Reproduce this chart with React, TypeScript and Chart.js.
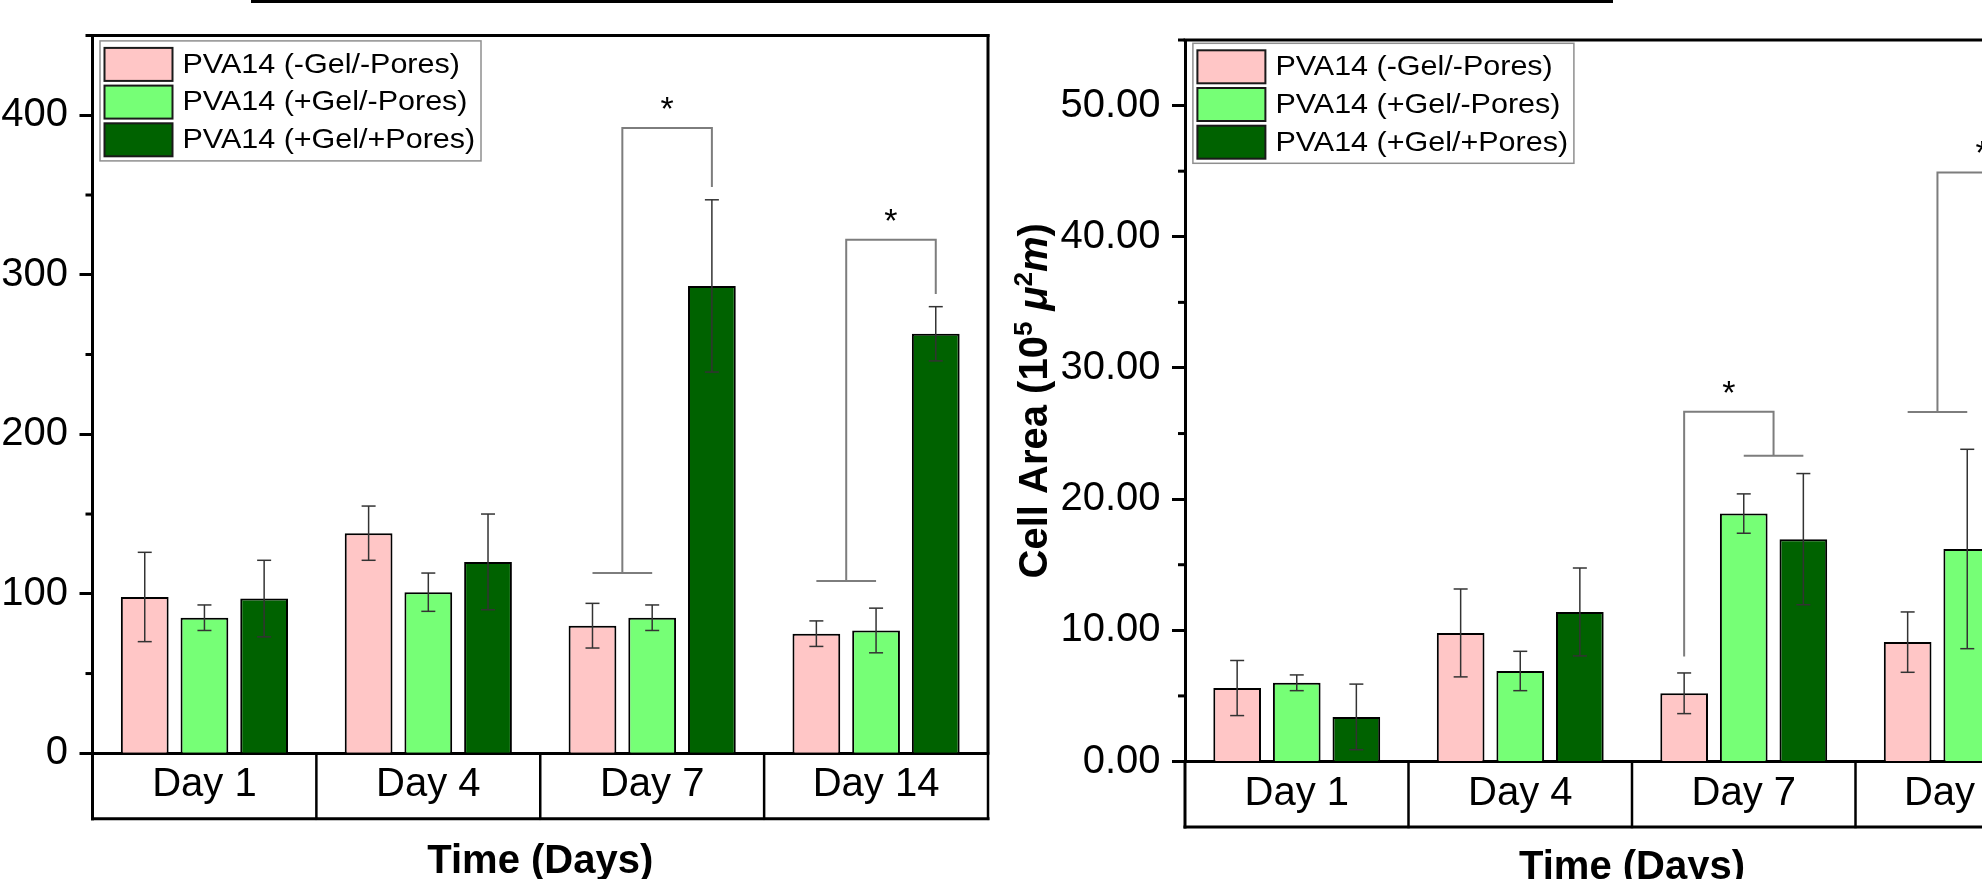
import React, { useEffect, useRef } from 'react';
import { Chart, registerables } from 'chart.js';

Chart.register(...registerables);

const FONT = '"Liberation Sans", Arial, Helvetica, sans-serif';

const days = ['Day 1', 'Day 4', 'Day 7', 'Day 14'];
const groupLabels = ['PVA14 (-Gel/-Pores)', 'PVA14 (+Gel/-Pores)', 'PVA14 (+Gel/+Pores)'];
const groupColors = ['#ffc6c6', '#76ff76', '#006200'];

// Left panel: cell count per scaffold
const countNoGelNoPores = [98, 138, 80, 75];
const countNoGelNoPoresSd = [28, 17, 14, 8];
const countGelNoPores = [85, 101, 85, 77];
const countGelNoPoresSd = [8, 12, 8, 14];
const countGelPores = [97, 120, 293, 263];
const countGelPoresSd = [24, 30, 54, 17];
const countAxis = [0, 450, 100];

// significance brackets, count panel
const countSigDay = [2, 3];
const countSigLeft = [[0, 1], [0, 1]];
const countSigRight = [[2], [2]];
const countSigTop = [392, 322];
const countSigLeftEnd = [113, 108];
const countSigRightEnd = [355, 288];

// Right panel: cell area (10^5 µ²m)
const areaNoGelNoPores = [5.6, 9.8, 5.2, 9.1];
const areaNoGelNoPoresSd = [2.1, 3.35, 1.55, 2.3];
const areaGelNoPores = [6.0, 6.9, 18.9, 16.2];
const areaGelNoPoresSd = [0.6, 1.5, 1.5, 7.6];
const areaGelPores = [3.4, 11.4, 16.95, 30.0];
const areaGelPoresSd = [2.5, 3.35, 5.0, 8.0];
const areaAxis = [0, 55, 10];

// significance brackets, area panel
const areaSigDay = [2, 3];
const areaSigLeft = [[0], [0, 1]];
const areaSigRight = [[1, 2], [2]];
const areaSigTop = [26.67, 44.9];
const areaSigLeftEnd = [8.0, 26.64];
const areaSigRightEnd = [23.3, 40.0];

type Panel = {
  values: number[][];
  errors: number[][];
  axis: number[];
  decimals: number;
  sig: { day: number[]; left: number[][]; right: number[][]; top: number[]; leftEnd: number[]; rightEnd: number[] };
  width: number;
  height: number;
  pad: { top: number; right: number };
  yWidth: number;
  xHeight: number;
  titlePad: number;
  legendAt: [number, number];
  yTitle: boolean;
};

function line(ctx: CanvasRenderingContext2D, x1: number, y1: number, x2: number, y2: number) {
  ctx.beginPath();
  ctx.moveTo(x1, y1);
  ctx.lineTo(x2, y2);
  ctx.stroke();
}

function makeDecor(p: Panel) {
  return {
    id: 'panelDecor',
    afterDatasetsDraw(chart: any) {
      const { ctx } = chart;
      const y = chart.scales.y;
      ctx.save();
      // error bars
      ctx.strokeStyle = '#333';
      ctx.lineWidth = 1.5;
      chart.data.datasets.forEach((ds: any, di: number) => {
        const meta = chart.getDatasetMeta(di);
        meta.data.forEach((bar: any, j: number) => {
          const v = ds.data[j];
          const e = ds.errors[j];
          const yh = y.getPixelForValue(v + e);
          const yl = y.getPixelForValue(v - e);
          line(ctx, bar.x, yh, bar.x, yl);
          line(ctx, bar.x - 7, yh, bar.x + 7, yh);
          line(ctx, bar.x - 7, yl, bar.x + 7, yl);
        });
      });
      // significance brackets
      const s = p.sig;
      ctx.strokeStyle = '#7d7d7d';
      ctx.lineWidth = 2;
      s.day.forEach((d, k) => {
        const xsOf = (groups: number[]) => groups.map((g) => chart.getDatasetMeta(g).data[d].x);
        const lxs = xsOf(s.left[k]);
        const rxs = xsOf(s.right[k]);
        const lx = lxs.reduce((a, b) => a + b, 0) / lxs.length;
        const rx = rxs.reduce((a, b) => a + b, 0) / rxs.length;
        const yt = y.getPixelForValue(s.top[k]);
        const yl = y.getPixelForValue(s.leftEnd[k]);
        const yr = y.getPixelForValue(s.rightEnd[k]);
        ctx.beginPath();
        ctx.moveTo(lx, yl);
        ctx.lineTo(lx, yt);
        ctx.lineTo(rx, yt);
        ctx.lineTo(rx, yr);
        ctx.stroke();
        if (lxs.length > 1) line(ctx, Math.min(...lxs), yl, Math.max(...lxs), yl);
        if (rxs.length > 1) line(ctx, Math.min(...rxs), yr, Math.max(...rxs), yr);
        ctx.fillStyle = '#000';
        ctx.font = `34px ${FONT}`;
        ctx.textAlign = 'center';
        ctx.textBaseline = 'alphabetic';
        ctx.fillText('*', (lx + rx) / 2, yt - 8);
      });
      ctx.restore();
    },
    afterDraw(chart: any) {
      const { ctx, chartArea: ca } = chart;
      const x = chart.scales.x;
      const y = chart.scales.y;
      ctx.save();
      ctx.strokeStyle = '#000';
      ctx.lineCap = 'square';
      // plot frame (top and right)
      ctx.lineWidth = 3;
      line(ctx, ca.left, ca.top, ca.right, ca.top);
      line(ctx, ca.right, ca.top, ca.right, ca.bottom);
      // minor ticks
      const [lo, hi, step] = p.axis;
      ctx.lineCap = 'butt';
      for (let v = lo + step / 2; v <= hi + 1e-9; v += step) {
        const py = y.getPixelForValue(v);
        line(ctx, ca.left - 7, py, ca.left, py);
      }
      // category box under the axis
      const boxH = 65.5;
      const n = x.ticks.length;
      const cw = (ca.right - ca.left) / n;
      ctx.lineCap = 'square';
      line(ctx, ca.left, ca.bottom + boxH, ca.right, ca.bottom + boxH);
      for (let i = 0; i <= n; i++) {
        const bx = i < n ? x.getPixelForValue(i) - cw / 2 : x.getPixelForValue(n - 1) + cw / 2;
        ctx.lineWidth = i === 0 ? 3 : 2.5;
        line(ctx, bx, ca.bottom, bx, ca.bottom + boxH);
      }
      // legend
      const lx = ca.left + p.legendAt[0];
      const ly = ca.top + p.legendAt[1];
      const lw = 381;
      const lh = 120;
      ctx.fillStyle = '#fff';
      ctx.fillRect(lx, ly, lw, lh);
      ctx.strokeStyle = '#8f8f8f';
      ctx.lineWidth = 1.5;
      ctx.strokeRect(lx, ly, lw, lh);
      chart.data.datasets.forEach((ds: any, i: number) => {
        const sy = ly + 7 + i * 37.7;
        ctx.fillStyle = ds.backgroundColor;
        ctx.fillRect(lx + 4.5, sy, 68, 33);
        ctx.strokeStyle = '#1a1a1a';
        ctx.lineWidth = 2;
        ctx.strokeRect(lx + 4.5, sy, 68, 33);
        ctx.save();
        ctx.translate(lx + 82.5, sy + 17);
        ctx.scale(1.07, 1);
        ctx.fillStyle = '#000';
        ctx.font = `28.5px ${FONT}`;
        ctx.textAlign = 'left';
        ctx.textBaseline = 'middle';
        ctx.fillText(ds.label, 0, 0);
        ctx.restore();
      });
      // rotated y-axis title with superscripts
      if (p.yTitle) {
        const segs: [string, string, number][] = [
          ['Cell Area (10', `bold 40px ${FONT}`, 0],
          ['5', `bold 26px ${FONT}`, -15],
          [' ', `bold 40px ${FONT}`, 0],
          ['\u03bc', `italic bold 40px ${FONT}`, 0],
          ['2', `bold 26px ${FONT}`, -15],
          ['m', `italic bold 40px ${FONT}`, 0],
          [')', `bold 40px ${FONT}`, 0],
        ];
        let total = 0;
        const widths = segs.map(([t, f]) => {
          ctx.font = f;
          const w = ctx.measureText(t).width;
          total += w;
          return w;
        });
        ctx.translate(33, (ca.top + ca.bottom) / 2);
        ctx.rotate(-Math.PI / 2);
        ctx.fillStyle = '#000';
        ctx.textAlign = 'left';
        ctx.textBaseline = 'alphabetic';
        let cx = -total / 2;
        segs.forEach(([t, f, dy], i) => {
          ctx.font = f;
          ctx.fillText(t, cx, 14.3 + dy);
          cx += widths[i];
        });
      }
      ctx.restore();
    },
  };
}

function buildChart(canvas: HTMLCanvasElement, p: Panel) {
  const [lo, hi, step] = p.axis;
  return new Chart(canvas, {
    type: 'bar',
    data: {
      labels: days,
      datasets: groupLabels.map((label, i) => ({
        label,
        data: p.values[i],
        errors: p.errors[i],
        backgroundColor: groupColors[i],
        borderColor: '#000',
        borderWidth: 2,
        categoryPercentage: 0.8,
        barPercentage: 0.8,
      })) as any,
    },
    options: {
      responsive: false,
      animation: false,
      events: [],
      layout: { padding: { top: p.pad.top, right: p.pad.right, left: 0, bottom: 0 } },
      plugins: { legend: { display: false }, tooltip: { enabled: false } },
      scales: {
        x: {
          type: 'category',
          offset: true,
          grid: { display: false, drawTicks: false },
          border: { display: true, color: '#000', width: 3 },
          ticks: { color: '#000', font: { family: FONT, size: 40 }, padding: 8, maxRotation: 0, autoSkip: false },
          title: {
            display: true,
            text: 'Time (Days)',
            color: '#000',
            font: { family: FONT, size: 40, weight: 'bold' },
            padding: { top: 0, bottom: p.titlePad },
          },
          afterFit: (s: any) => {
            s.height = p.xHeight;
          },
        },
        y: {
          min: lo,
          max: hi,
          grid: { display: true, drawOnChartArea: false, drawTicks: true, tickLength: 13, tickWidth: 3, tickColor: '#000' },
          border: { display: true, color: '#000', width: 3 },
          ticks: {
            stepSize: step,
            includeBounds: false,
            padding: 11.5,
            color: '#000',
            font: { family: FONT, size: 40 },
            callback: (v: any) => Number(v).toFixed(p.decimals),
          },
          afterFit: (s: any) => {
            s.width = p.yWidth;
          },
        },
      },
    } as any,
    plugins: [makeDecor(p)],
  });
}

const countPanel: Panel = {
  values: [countNoGelNoPores, countGelNoPores, countGelPores],
  errors: [countNoGelNoPoresSd, countGelNoPoresSd, countGelPoresSd],
  axis: countAxis,
  decimals: 0,
  sig: { day: countSigDay, left: countSigLeft, right: countSigRight, top: countSigTop, leftEnd: countSigLeftEnd, rightEnd: countSigRightEnd },
  width: 1000,
  height: 920,
  pad: { top: 32.3, right: 12 },
  yWidth: 92.5,
  xHeight: 920 - 753.3,
  titlePad: 34,
  legendAt: [7.5, 5.4],
  yTitle: false,
};

const areaPanel: Panel = {
  values: [areaNoGelNoPores, areaGelNoPores, areaGelPores],
  errors: [areaNoGelNoPoresSd, areaGelNoPoresSd, areaGelPoresSd],
  axis: areaAxis,
  decimals: 2,
  sig: { day: areaSigDay, left: areaSigLeft, right: areaSigRight, top: areaSigTop, leftEnd: areaSigLeftEnd, rightEnd: areaSigRightEnd },
  width: 1100,
  height: 920,
  pad: { top: 40, right: 21 },
  yWidth: 185,
  xHeight: 920 - 761.5,
  titlePad: 28,
  legendAt: [7.9, 3.3],
  yTitle: true,
};

function BarPanel({ panel, left }: { panel: Panel; left: number }) {
  const ref = useRef<HTMLCanvasElement | null>(null);
  useEffect(() => {
    if (!ref.current) return;
    const chart = buildChart(ref.current, panel);
    return () => chart.destroy();
  }, [panel]);
  return (
    <canvas
      ref={ref}
      width={panel.width}
      height={panel.height}
      style={{ position: 'absolute', left, top: 0, width: panel.width, height: panel.height }}
    />
  );
}

export default function App() {
  return (
    <div
      style={{
        position: 'fixed',
        left: 0,
        top: 0,
        width: 1982,
        height: 879,
        overflow: 'hidden',
        background: '#fff',
      }}
    >
      <div style={{ position: 'absolute', left: 251, top: 0, width: 1362, height: 3, background: '#000' }} />
      <BarPanel panel={countPanel} left={0} />
      <BarPanel panel={areaPanel} left={1000} />
    </div>
  );
}
